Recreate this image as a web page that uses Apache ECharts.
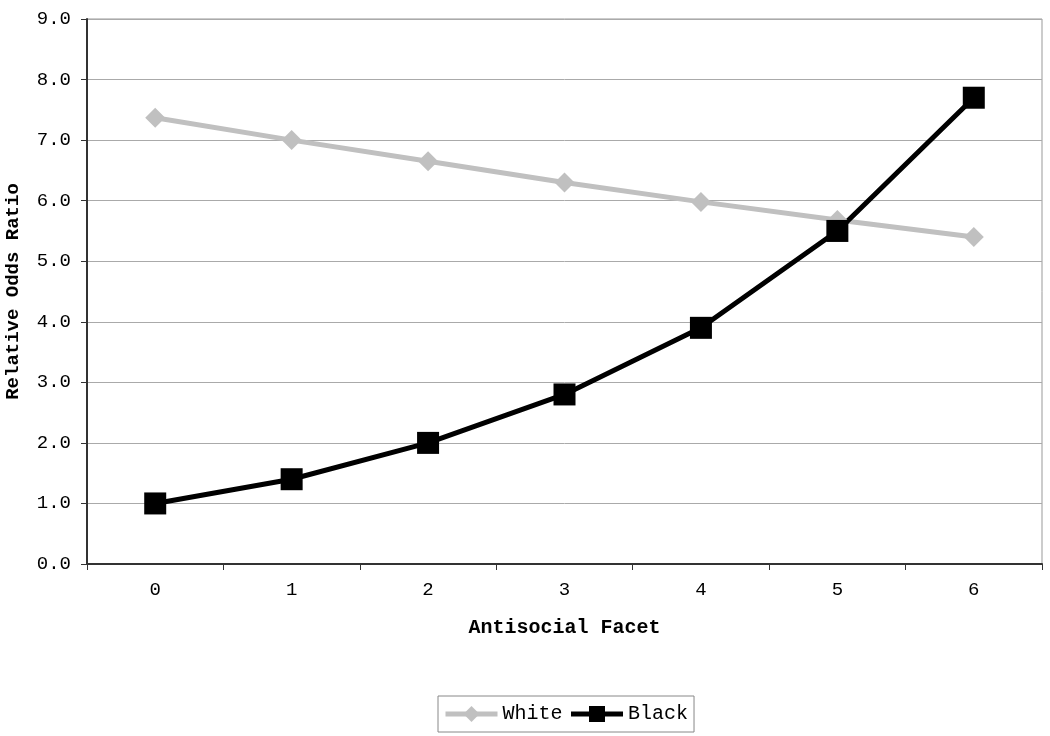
<!DOCTYPE html>
<html>
	<head>
		<meta charset="UTF-8">
		<title>Relative Odds Ratio</title>
		<script src="https://cdn.jsdelivr.net/npm/echarts@6/dist/echarts.min.js"></script>
		<style>
			html, body { margin: 0; padding: 0; background: #fff; }
		</style>
	</head>
	<body>
		<div id="main" style="width: 1050px;height:736px;"></div>
		<script type="text/javascript">

		// data
		var facets = ['0', '1', '2', '3', '4', '5', '6'];
		var whiteValues = [7.37, 7.0, 6.65, 6.3, 5.98, 5.68, 5.4];
		var blackValues = [1.0, 1.4, 2.0, 2.8, 3.9, 5.5, 7.7];

		var mono = '"Liberation Mono", "DejaVu Sans Mono", monospace';

		var myChart = echarts.init(document.getElementById('main'));
		var option = {
			animation: false,
			textStyle: { fontFamily: mono },
			grid: {
				left: 87,
				right: 8,
				top: 19,
				bottom: 172,
				outerBoundsMode: 'none',
				show: true,
				borderColor: '#999',
				borderWidth: 1
			},
			legend: {
				bottom: 4,
				left: 438,
				data: ['White', 'Black'],
				itemWidth: 52,
				itemHeight: 20,
				itemGap: 6,
				padding: [8, 6, 8, 5],
				borderColor: '#888',
				borderWidth: 1,
				lineStyle: { width: 5 },
				textStyle: { fontFamily: mono, fontSize: 20, color: '#000' }
			},
			xAxis: {
				type: 'category',
				data: facets,
				boundaryGap: true,
				name: 'Antisocial Facet',
				nameLocation: 'middle',
				nameGap: 54,
				nameTextStyle: { fontFamily: mono, fontWeight: 'bold', fontSize: 20, color: '#000' },
				axisLine: { lineStyle: { color: '#333', width: 2 } },
				axisTick: { show: true, length: 6, lineStyle: { color: '#333' } },
				axisLabel: { margin: 16, fontSize: 19, color: '#000', fontFamily: mono }
			},
			yAxis: {
				type: 'value',
				min: 0,
				max: 9,
				interval: 1,
				name: 'Relative Odds Ratio',
				nameLocation: 'middle',
				nameGap: 64,
				nameTextStyle: { fontFamily: mono, fontWeight: 'bold', fontSize: 19, color: '#000' },
				axisLine: { show: true, lineStyle: { color: '#333', width: 2 } },
				axisTick: { show: true, length: 6, lineStyle: { color: '#333' } },
				axisLabel: {
					margin: 16,
					fontSize: 19,
					color: '#000',
					fontFamily: mono,
					formatter: function (v) { return v.toFixed(1); }
				},
				splitLine: { lineStyle: { color: '#aaa', width: 1 } }
			},
			series: [
				{
					name: 'White',
					type: 'line',
					data: whiteValues,
					symbol: 'diamond',
					symbolSize: 20,
					itemStyle: { color: '#c0c0c0' },
					lineStyle: { color: '#c0c0c0', width: 5 }
				},
				{
					name: 'Black',
					type: 'line',
					data: blackValues,
					symbol: 'rect',
					symbolSize: 22,
					itemStyle: { color: '#000' },
					lineStyle: { color: '#000', width: 5 }
				}
			]
		};
		myChart.setOption(option);
		</script>
	</body>
</html>
